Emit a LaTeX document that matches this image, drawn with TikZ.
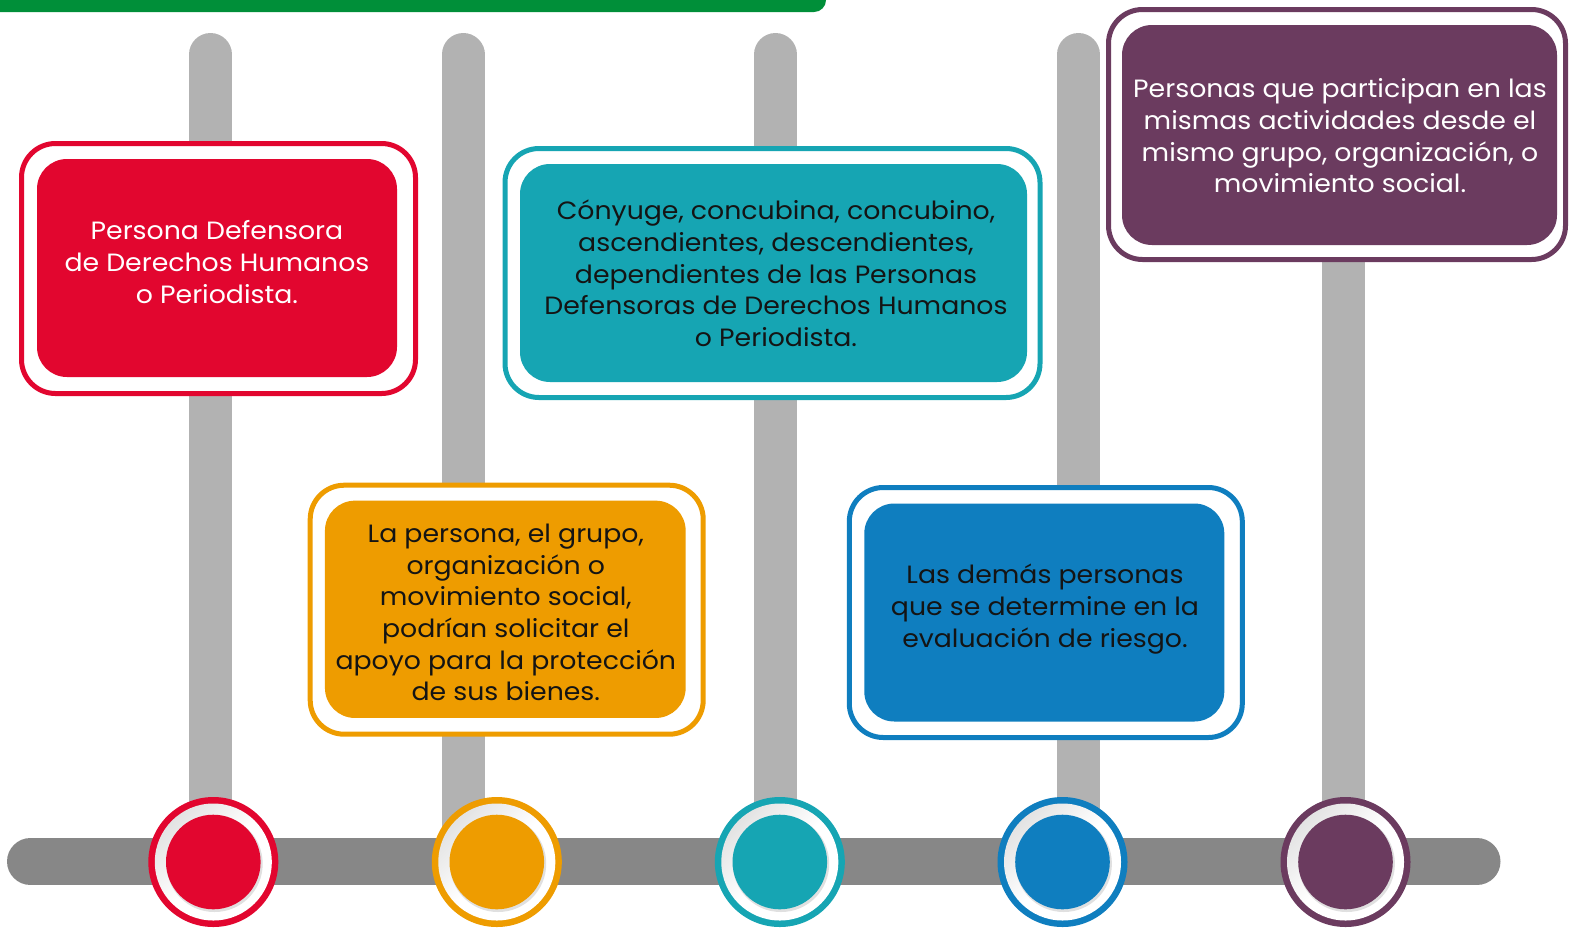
\documentclass[tikz,border=0pt]{standalone}
\usepackage{fontspec}
\setmainfont{Poppins}[FakeStretch=1.07]
\definecolor{cred}{HTML}{E2062F}
\definecolor{corange}{HTML}{EE9C00}
\definecolor{cteal}{HTML}{16A5B3}
\definecolor{cblue}{HTML}{0F7EBF}
\definecolor{cpurple}{HTML}{6B3B5F}
\definecolor{cgreen}{HTML}{008F39}
\definecolor{bargray}{HTML}{B2B2B2}
\definecolor{linegray}{HTML}{878787}
\definecolor{txtdark}{HTML}{141414}
\tikzset{
  vbar/.style={line width=43pt, bargray, line cap=round},
  hbar/.style={line width=47pt, linegray, line cap=round},
  frame/.style={draw=#1, line width=5pt, fill=white, rounded corners=34pt, inner sep=0pt},
  panel/.style={fill=#1, rounded corners=30pt, inner sep=0pt},
  label/.style={align=center, font=\fontsize{25}{31.7}\selectfont, inner sep=0pt},
  ring/.style={circle, fill=#1, minimum size=130pt, inner sep=0pt},
}
\begin{document}
\begin{tikzpicture}[x=1pt,y=-1pt]
\useasboundingbox (0,0) rectangle (1570,930);
% green header bar
\fill[cgreen] (0,-20) -- (826,-20) -- (826,0) arc[start angle=0,end angle=90,radius=12] -- (0,12) -- cycle;
% vertical bars
\coordinate (t1) at (210.5,54.5);
\coordinate (t2) at (463,54.5);
\coordinate (t3) at (775.5,54.5);
\coordinate (t4) at (1078.5,54.5);
\coordinate (t5) at (1343,240);
\coordinate (b1) at (210.5,862);
\coordinate (b2) at (463,862);
\coordinate (b3) at (775.5,862);
\coordinate (b4) at (1078.5,862);
\coordinate (b5) at (1343,862);
\foreach \i in {1,...,5} \draw[vbar] (t\i) -- (b\i);
% horizontal bar
\coordinate (hl) at (30.5,861.5);
\coordinate (hr) at (1477,861.5);
\draw[hbar] (hl) -- (hr);
% circles
\foreach \i/\x/\c in {1/213.3/cred,2/496.8/corange,3/779.8/cteal,4/1062.5/cblue,5/1345.5/cpurple}{
  \node[ring=\c] (c\i) at (\x,862) {};
  \shade[top color=black!11, bottom color=white, middle color=white, shading angle=45] (c\i.center) circle (58.5);
  \fill[black!12] ([shift={(1.2,1.8)}]c\i.center) circle (48.2);
  \fill[\c] (c\i.center) circle (47.3);
}
% boxes
\node[frame=cred, minimum width=394pt, minimum height=250pt] (f1) at (218.5,268.5) {};
\node[panel=cred, minimum width=360pt, minimum height=218pt] (p1) at (217,268) {};
\node[label, text=white] (l1) at (217,262) {Persona Defensora\\de Derechos Humanos\\o Periodista.};

\node[frame=corange, minimum width=393pt, minimum height=249pt] (f2) at (506.7,609.7) {};
\node[panel=corange, minimum width=360.7pt, minimum height=217.3pt] (p2) at (505.3,609.3) {};
\node[label, text=txtdark] (l2) at (505.8,612.5) {La persona, el grupo,\\organización o\\movimiento social,\\podrían solicitar el\\apoyo para la protección\\de sus bienes.};

\node[frame=cteal, minimum width=535pt, minimum height=249pt] (f3) at (772.5,273) {};
\node[panel=cteal, minimum width=507pt, minimum height=218pt] (p3) at (773.5,273) {};
\node[label, text=txtdark] (l3) at (776,273.5) {Cónyuge, concubina, concubino,\\ascendientes, descendientes,\\dependientes de las Personas\\Defensoras de Derechos Humanos\\o Periodista.};

\node[frame=cblue, minimum width=393pt, minimum height=250pt] (f4) at (1045.8,612.5) {};
\node[panel=cblue, minimum width=360pt, minimum height=218pt] (p4) at (1044.3,612.5) {};
\node[label, text=txtdark] (l4) at (1045,609) {Las demás personas\\que se determine en la\\evaluación de riesgo.};

\node[frame=cpurple, minimum width=457pt, minimum height=250pt] (f5) at (1337,134.5) {};
\node[panel=cpurple, minimum width=435pt, minimum height=220pt] (p5) at (1339.5,135) {};
\node[label, text=white] (l5) at (1340,136) {Personas que participan en las\\mismas actividades desde el\\mismo grupo, organización, o\\movimiento social.};
\end{tikzpicture}
\end{document}
